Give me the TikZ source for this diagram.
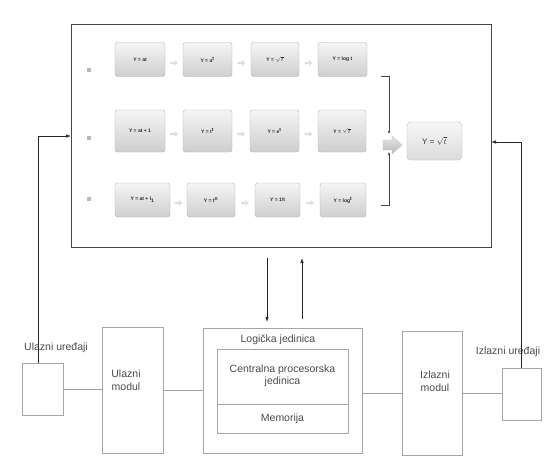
\documentclass[tikz,border=0pt]{standalone}
\usepackage{fontspec}
\setmainfont{Liberation Sans}
\usetikzlibrary{arrows.meta,calc}
\begin{document}
\begin{tikzpicture}[x=1pt,y=-1pt,
  fbox/.style={draw=gray!60, rounded corners=2.5pt, top color=gray!8, bottom color=gray!38,
    inner sep=0pt, font=\fontsize{5}{6}\selectfont\bfseries, text=gray!30!black},
  resbox/.style={draw=gray!55, rounded corners=4pt, top color=gray!6, bottom color=gray!28,
    inner sep=0pt, font=\fontsize{8}{9}\selectfont, text=gray!40!black, minimum width=55, minimum height=38},
  blk/.style={draw=gray!70, line width=0.6pt, inner sep=0pt},
  lbl/.style={font=\fontsize{10.5}{12.5}\selectfont, text=gray!60!black, align=center},
  link/.style={draw=gray!75, line width=0.7pt},
  arr/.style={draw=gray!30!black, line width=0.7pt, -{Latex[length=5pt,width=3.5pt]}},
  sarr/.style={draw=gray!55!black, line width=0.5pt, -{Latex[length=3pt,width=2.5pt]}},
  chev/.pic={\fill[gray!25] (-4,-1.2) -- (0.5,-1.2) -- (0.5,-3) -- (4,0) -- (0.5,3) -- (0.5,1.2) -- (-4,1.2) -- cycle;}
]
\useasboundingbox (0,0) rectangle (556,464);
\fill[white] (0,0) rectangle (556,464);

% outer frame
\node[draw=gray!55!black, line width=0.8pt, minimum width=420, minimum height=223, inner sep=0pt] (frame) at (281,135.5) {};

% row 1
\node[fbox, minimum width=50, minimum height=34] (a1) at (140,59.5) {Y = at};
\node[fbox, minimum width=49, minimum height=34] (a2) at (207.5,59.5) {Y = a\textsuperscript{t}};
\node[fbox, minimum width=48, minimum height=34] (a3) at (275,59.5) {Y = $\sqrt{t}$};
\node[fbox, minimum width=49, minimum height=34] (a4) at (342.5,59.5) {Y = log t};
% row 2
\node[fbox, minimum width=50, minimum height=42] (b1) at (140,131) {Y = at + 1};
\node[fbox, minimum width=49, minimum height=42] (b2) at (207.5,131) {Y = t\textsuperscript{t}};
\node[fbox, minimum width=49, minimum height=42] (b3) at (274.5,131) {Y = e\textsuperscript{t}};
\node[fbox, minimum width=48, minimum height=42] (b4) at (342,131) {Y = $\sqrt{t}$};
% row 3
\node[fbox, minimum width=55, minimum height=34] (c1) at (142.5,200) {Y = at + l\textsubscript{1}};
\node[fbox, minimum width=48, minimum height=34] (c2) at (211,200) {Y = t\textsuperscript{n}};
\node[fbox, minimum width=45, minimum height=34] (c3) at (277.5,200) {Y = 1/t};
\node[fbox, minimum width=46, minimum height=34] (c4) at (343,200) {Y = log\textsuperscript{t}};

% chevrons between boxes
\foreach \x/\y in {174/63,241.5/63,308.5/63,174/134,241/134,308.5/134,178.5/203,245/203,310/203}
  \pic at (\x,\y) {chev};

% bullets
\foreach \y in {70,138,199}
  \fill[gray!55] (87,\y-2) rectangle (91,\y+2);

% brackets
\coordinate (br1) at (381,76);
\coordinate (br2) at (381,205);
\coordinate (bt1) at (389,134);
\coordinate (bt2) at (389,152);
\draw[sarr] (br1) -| (bt1);
\draw[sarr] (br2) -| (bt2);

% block arrow
\shade[top color=gray!20, bottom color=gray!55, draw=gray!45]
  (383,140) -- (392,140) -- (392,136) -- (402,145) -- (392,154) -- (392,150) -- (383,150) -- cycle;

\node[resbox] (res) at (434.5,141) {Y = $\sqrt{t}$};

% bottom row
\node[blk, minimum width=41, minimum height=52] (ulu) at (42.5,389) {};
\node[blk, minimum width=61, minimum height=126] (ulm) at (132.5,390) {};
\node[blk, minimum width=159, minimum height=125] (logic) at (282.5,390.5) {};
\node[blk, minimum width=131, minimum height=55] (cpu) at (282.5,376.5) {};
\node[blk, minimum width=131, minimum height=29] (mem) at (282.5,418.5) {};
\node[blk, minimum width=60, minimum height=124] (izm) at (432,393) {};
\node[blk, minimum width=39, minimum height=52] (izu) at (521.5,394) {};

\node[lbl] (tulu) at (56,348) {Ulazni uređaji};
\node[lbl] (tizu) at (508,352) {Izlazni uređaji};
\node[lbl] (tulm) at (126,380) {Ulazni\\modul};
\node[lbl] (tizm) at (435,381) {Izlazni\\modul};
\node[lbl] (tlog) at (278,340) {Logička jedinica};
\node[lbl] (tcpu) at (282.5,376) {Centralna procesorska\\jedinica};
\node[lbl] (tmem) at (282.5,419) {Memorija};

\draw[link] (ulu.east) -- (ulu.east -| ulm.west);
\draw[link] (ulm.east) -- (ulm.east -| logic.west);
\draw[link] (logic.east |- izm.west) -- (izm.west);
\draw[link] (izm.east) -- (izm.east -| izu.west);

% feedback lines
\coordinate (lin) at (71,136);
\coordinate (rin) at (491,142);
\draw[arr] ([xshift=-4.5]ulu.north) |- (lin);
\draw[arr] (izu.north) |- (rin);

% vertical arrows between frame and logic
\coordinate (d1) at (267,258);
\coordinate (d2) at (267,322);
\coordinate (u1) at (302,319);
\coordinate (u2) at (302,258);
\draw[arr] (d1) -- (d2);
\draw[arr] (u1) -- (u2);
\end{tikzpicture}
\end{document}
